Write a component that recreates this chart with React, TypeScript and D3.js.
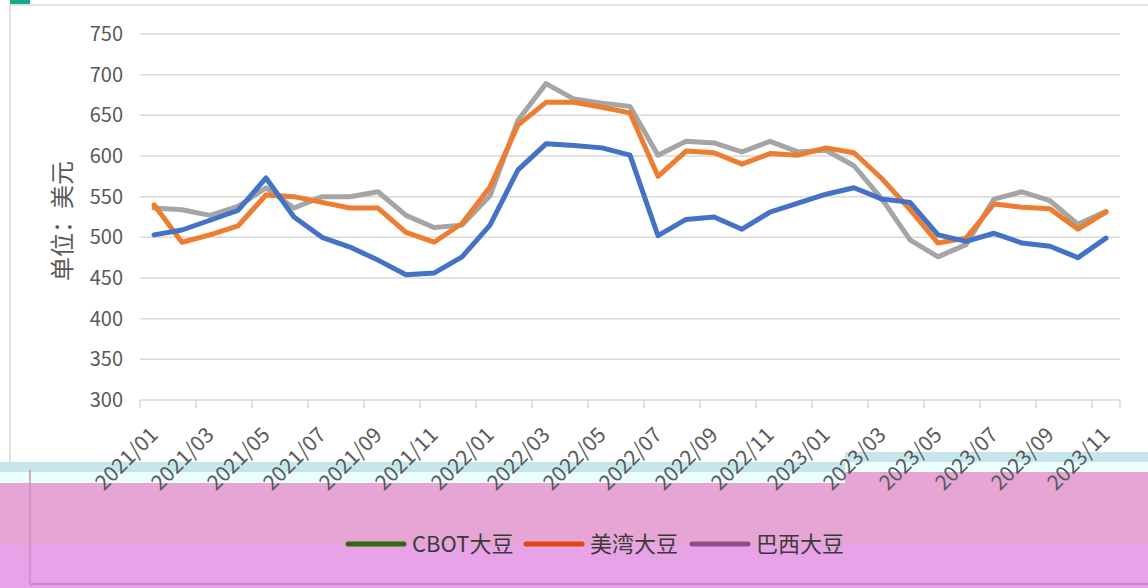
import React, { useRef, useEffect } from 'react';
import * as d3 from 'd3';

// monthly categories 2021/01 .. 2023/11
const months = [
  '2021/01', '2021/02', '2021/03', '2021/04', '2021/05', '2021/06', '2021/07', '2021/08', '2021/09', '2021/10', '2021/11', '2021/12',
  '2022/01', '2022/02', '2022/03', '2022/04', '2022/05', '2022/06', '2022/07', '2022/08', '2022/09', '2022/10', '2022/11', '2022/12',
  '2023/01', '2023/02', '2023/03', '2023/04', '2023/05', '2023/06', '2023/07', '2023/08', '2023/09', '2023/10', '2023/11',
];

const cbot = [503, 509, 521, 533, 573, 525, 500, 488, 472, 454, 456, 476, 515, 583, 615, 613, 610, 601,
  502, 522, 525, 510, 531, 542, 553, 561, 547, 543, 503, 495, 505, 493, 489, 475, 499];
const usGulf = [540, 494, 503, 514, 552, 550, 543, 536, 536, 506, 494, 517, 562, 638, 666, 666, 660, 653,
  575, 606, 604, 590, 603, 601, 610, 604, 572, 534, 493, 499, 541, 537, 535, 510, 531];
const brazil = [536, 534, 527, 538, 561, 536, 550, 550, 556, 527, 512, 515, 551, 644, 689, 670, 665, 661,
  601, 618, 616, 605, 618, 605, 607, 588, 547, 497, 476, 491, 547, 556, 545, 516, 532];

const yTicks = [300, 350, 400, 450, 500, 550, 600, 650, 700, 750];

const seriesNames = ['CBOT大豆', '美湾大豆', '巴西大豆'];
const lineColors = ['#4472C4', '#ED7D31', '#A5A5A5'];
const legendColors = ['#2F6A0C', '#E0470A', '#8E4E8A'];

const FONT = '"Noto Sans CJK SC", "Noto Sans", sans-serif';

const App = () => {
  const svgRef = useRef(null);

  useEffect(() => {
    const w = 1148;
    const h = 588;
    const svg = d3.select(svgRef.current).attr('width', w).attr('height', h);
    svg.selectAll('*').remove();

    svg.append('rect').attr('width', w).attr('height', h).attr('fill', '#ffffff');

    // bands at the bottom of the picture
    svg.append('rect').attr('x', 0).attr('y', 462).attr('width', 845).attr('height', 10).attr('fill', '#C6E6EB');
    svg.append('rect').attr('x', 0).attr('y', 472).attr('width', 845).attr('height', 11).attr('fill', '#EAFEFE');
    svg.append('rect').attr('x', 845).attr('y', 452).attr('width', w - 845).attr('height', 10).attr('fill', '#C6E6EB');
    svg.append('rect').attr('x', 845).attr('y', 462).attr('width', w - 845).attr('height', 10).attr('fill', '#EAFEFE');
    svg.append('rect').attr('x', 0).attr('y', 483).attr('width', 845).attr('height', 62).attr('fill', '#E7A5D6');
    svg.append('rect').attr('x', 845).attr('y', 472).attr('width', w - 845).attr('height', 73).attr('fill', '#E7A5D6');
    svg.append('rect').attr('x', 0).attr('y', 545).attr('width', w).attr('height', 43).attr('fill', '#E8A2E7');
    svg.append('line').attr('x1', 30).attr('x2', w).attr('y1', 584).attr('y2', 584).attr('stroke', '#C98BC4').attr('stroke-width', 2);
    svg.append('line').attr('x1', 30).attr('x2', 30).attr('y1', 470).attr('y2', 584).attr('stroke', '#C98BC4').attr('stroke-width', 1.5);

    // chart frame
    svg.append('line').attr('x1', 10).attr('x2', w).attr('y1', 5).attr('y2', 5).attr('stroke', '#D9D9D9').attr('stroke-width', 1.5);
    svg.append('line').attr('x1', 10).attr('x2', 10).attr('y1', 5).attr('y2', 462).attr('stroke', '#D9D9D9').attr('stroke-width', 1.5);
    svg.append('rect').attr('x', 10).attr('y', 0).attr('width', 20).attr('height', 4).attr('fill', '#1AA88A');

    // scales
    const xScale = d3.scaleBand().domain(months).range([140, 1120]).padding(0);
    const yScale = d3.scaleLinear().domain([300, 750]).range([400, 34]);

    // gridlines
    svg
      .selectAll('.grid')
      .data(yTicks.slice(1))
      .join('line')
      .attr('class', 'grid')
      .attr('x1', 140)
      .attr('x2', 1120)
      .attr('y1', (d) => yScale(d))
      .attr('y2', (d) => yScale(d))
      .attr('stroke', '#D9D9D9')
      .attr('stroke-width', 1.5);

    // y labels
    svg
      .selectAll('.ylab')
      .data(yTicks)
      .join('text')
      .attr('class', 'ylab')
      .attr('x', 123)
      .attr('y', (d) => yScale(d))
      .attr('dy', '0.35em')
      .attr('text-anchor', 'end')
      .style('font-family', FONT)
      .style('font-size', '20px')
      .style('fill', '#595959')
      .text((d) => d);

    svg
      .append('text')
      .attr('transform', 'translate(63,221) rotate(-90)')
      .attr('text-anchor', 'middle')
      .attr('dy', '0.35em')
      .style('font-family', FONT)
      .style('font-size', '24px')
      .style('fill', '#595959')
      .text('单位：美元');

    // x axis line and ticks (every second category boundary)
    svg.append('line').attr('x1', 140).attr('x2', 1120).attr('y1', 400).attr('y2', 400).attr('stroke', '#D9D9D9').attr('stroke-width', 1.5);
    const tickMonths = months.filter((d, i) => i % 2 === 0);
    svg
      .selectAll('.xtick')
      .data(tickMonths)
      .join('line')
      .attr('class', 'xtick')
      .attr('x1', (d) => xScale(d))
      .attr('x2', (d) => xScale(d))
      .attr('y1', 400)
      .attr('y2', 408)
      .attr('stroke', '#D9D9D9')
      .attr('stroke-width', 1.5);
    svg.append('line').attr('x1', 1120).attr('x2', 1120).attr('y1', 400).attr('y2', 408).attr('stroke', '#D9D9D9').attr('stroke-width', 1.5);

    svg
      .selectAll('.xlab')
      .data(tickMonths)
      .join('text')
      .attr('class', 'xlab')
      .attr('transform', (d) => `translate(${xScale(d) + xScale.bandwidth() / 2}, 431) rotate(-45)`)
      .attr('text-anchor', 'end')
      .attr('dy', '0.35em')
      .style('font-family', FONT)
      .style('font-size', '21px')
      .style('fill', '#595959')
      .text((d) => d);

    // lines
    const line = d3
      .line()
      .x((d, i) => xScale(months[i]) + xScale.bandwidth() / 2)
      .y((d) => yScale(d));

    [brazil, usGulf, cbot].forEach((s, k) => {
      svg
        .append('path')
        .datum(s)
        .attr('d', line)
        .attr('fill', 'none')
        .attr('stroke', lineColors[2 - k])
        .attr('stroke-width', 5)
        .attr('stroke-linejoin', 'round')
        .attr('stroke-linecap', 'round');
    });

    // legend
    const legendX = [346, 524, 690];
    const legend = svg
      .selectAll('.legend')
      .data(seriesNames)
      .join('g')
      .attr('class', 'legend')
      .attr('transform', (d, i) => `translate(${legendX[i]}, 544)`);
    legend
      .append('line')
      .attr('x1', 2)
      .attr('x2', 58)
      .attr('stroke', (d, i) => legendColors[i])
      .attr('stroke-width', 5)
      .attr('stroke-linecap', 'round');
    legend
      .append('text')
      .attr('x', 66)
      .attr('dy', '0.35em')
      .style('font-family', FONT)
      .style('font-size', '22px')
      .style('fill', '#3a3a3a')
      .text((d) => d);
  }, []);

  return (
    <div style={{ position: 'absolute', left: 0, top: 0 }}>
      <svg ref={svgRef} style={{ display: 'block' }}></svg>
    </div>
  );
};

export default App;
